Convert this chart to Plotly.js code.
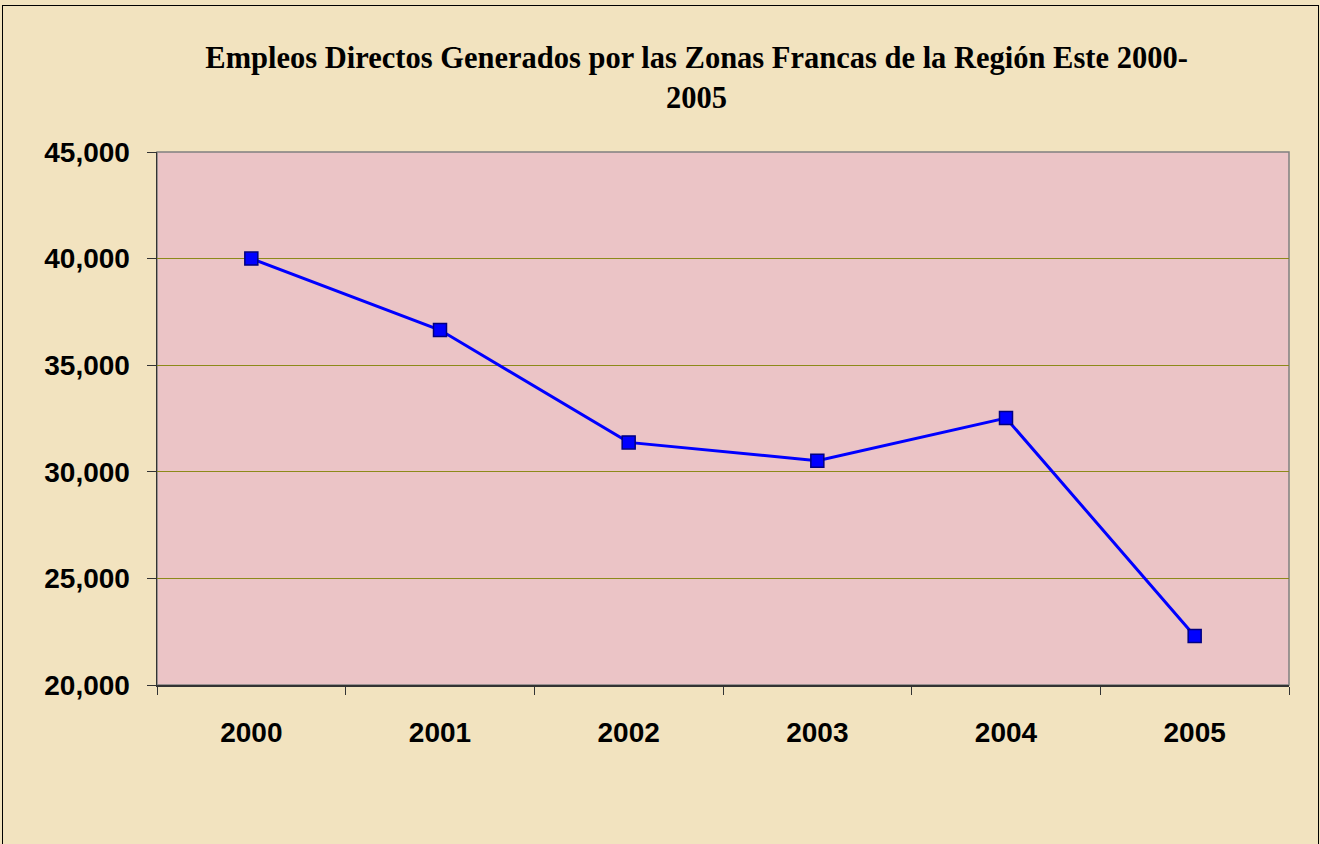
<!DOCTYPE html>
<html>
<head>
<meta charset="utf-8">
<script src="https://cdn.plot.ly/plotly-3.0.1.min.js"></script>
<style>
  html, body { margin: 0; padding: 0; background: #F2E3BF; }
  #chart { width: 1320px; height: 844px; position: absolute; left: 0; top: 0; }
  #frame { position: absolute; left: 2px; top: 5px; width: 1315px; height: 850px;
           border: 1px solid #000; pointer-events: none; }
</style>
</head>
<body>
<div id="chart"></div>
<div id="frame"></div>
<script>
const years = ["2000", "2001", "2002", "2003", "2004", "2005"];
const empleos = [40000, 36650, 31380, 30520, 32520, 22300];
const yTicks = [20000, 25000, 30000, 35000, 40000, 45000];
const titleText = "Empleos Directos Generados por las Zonas Francas de la Región Este 2000-<br>2005";

const trace = {
  type: "scatter",
  mode: "lines+markers",
  x: years,
  y: empleos,
  line: { color: "#0000FF", width: 3 },
  marker: { symbol: "square", size: 13, color: "#0000FF", line: { color: "#000080", width: 1.5 } },
  hoverinfo: "x+y"
};

const layout = {
  width: 1320,
  height: 844,
  margin: { l: 157, r: 31, t: 152, b: 159, pad: 0 },
  paper_bgcolor: "#F2E3BF",
  plot_bgcolor: "#EBC4C6",
  showlegend: false,
  title: {
    text: titleText,
    font: { family: "Liberation Serif, Times New Roman, serif", size: 30.5, color: "#000", weight: "bold" },
    x: 0.5277, xanchor: "center",
    y: 0.919, yanchor: "top"
  },
  xaxis: {
    type: "category",
    range: [-0.5, 5.5],
    tickson: "boundaries",
    ticks: "outside",
    ticklen: 8,
    tickcolor: "#333",
    tickwidth: 1,
    showline: true,
    linecolor: "#333",
    linewidth: 1.5,
    showgrid: false,
    zeroline: false,
    ticklabelstandoff: 22,
    tickfont: { family: "Liberation Sans, Arial, sans-serif", size: 28, color: "#000", weight: "bold" }
  },
  yaxis: {
    range: [20000, 45000],
    tickvals: yTicks,
    tickformat: ",d",
    ticks: "outside",
    ticklen: 9,
    tickcolor: "#333",
    tickwidth: 1,
    showline: true,
    linecolor: "#333",
    linewidth: 1.5,
    showgrid: true,
    gridcolor: "#8C8A1A",
    gridwidth: 1,
    zeroline: false,
    ticklabelstandoff: 11,
    tickfont: { family: "Liberation Sans, Arial, sans-serif", size: 28, color: "#000", weight: "bold" }
  },
  shapes: [
    { type: "rect", xref: "paper", yref: "paper", x0: 0, x1: 1, y0: 0, y1: 1,
      line: { color: "#808080", width: 1.5 }, fillcolor: "rgba(0,0,0,0)", layer: "below" }
  ]
};

Plotly.newPlot("chart", [trace], layout, { displayModeBar: false, staticPlot: true });
</script>
</body>
</html>
